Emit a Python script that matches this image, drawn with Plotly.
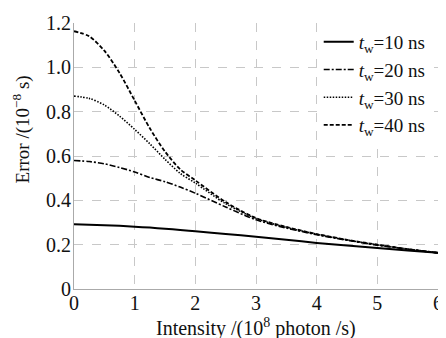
import plotly.graph_objects as go

intensity = [0, 0.25, 0.5, 0.75, 1, 1.25, 1.5, 1.75, 2, 2.5, 3, 3.5, 4, 4.5, 5, 5.5, 6]
err_10ns = [0.292, 0.290, 0.288, 0.285, 0.281, 0.277, 0.272, 0.266, 0.260, 0.248, 0.236, 0.222, 0.208, 0.196, 0.185, 0.174, 0.163]
err_20ns = [0.580, 0.575, 0.565, 0.548, 0.528, 0.503, 0.484, 0.460, 0.432, 0.370, 0.312, 0.275, 0.245, 0.220, 0.198, 0.180, 0.163]
err_30ns = [0.870, 0.860, 0.830, 0.780, 0.720, 0.655, 0.585, 0.522, 0.478, 0.385, 0.318, 0.278, 0.247, 0.221, 0.199, 0.180, 0.163]
err_40ns = [1.163, 1.140, 1.075, 0.975, 0.850, 0.725, 0.620, 0.540, 0.490, 0.392, 0.320, 0.280, 0.248, 0.222, 0.200, 0.180, 0.163]
labels = ["<i>t</i><sub>w</sub>=10 ns", "<i>t</i><sub>w</sub>=20 ns",
          "<i>t</i><sub>w</sub>=30 ns", "<i>t</i><sub>w</sub>=40 ns"]
x_ticks = [0, 1, 2, 3, 4, 5, 6]
y_ticks = [0, 0.2, 0.4, 0.6, 0.8, 1.0, 1.2]
y_tick_text = ["0", "0.2", "0.4", "0.6", "0.8", "1.0", "1.2"]
x_title = "Intensity /(10<sup>8</sup> photon /s)"
y_title = "Error /(10<sup>−8</sup> s)"

series = [err_10ns, err_20ns, err_30ns, err_40ns]
dashes = ["solid", "6px,2px,2px,2px", "1.5px,1.5px", "4px,2px"]
widths = [2, 1.6, 1.6, 1.8]

FONT = "Liberation Serif"
fig = go.Figure()
for ys, name, d, w in zip(series, labels, dashes, widths):
    fig.add_trace(go.Scatter(x=intensity, y=ys, mode="lines", name=name,
                             line=dict(color="black", dash=d, width=w, shape="spline", smoothing=0.8)))

# the page body adds an 8px offset, so the figure is 8px smaller than the window
fig.update_layout(
    width=438, height=330,
    margin=dict(l=66, r=8, t=15, b=49, autoexpand=False),
    paper_bgcolor="white", plot_bgcolor="white",
    font=dict(family=FONT, size=17, color="#111"),
    legend=dict(x=0.98, xanchor="right", y=1.0, yanchor="top", bgcolor="white",
                font=dict(family=FONT, size=19, color="#111"),
                itemwidth=30, tracegroupgap=0, borderwidth=0),
    showlegend=True,
    annotations=[
        dict(text=x_title, xref="paper", yref="paper", x=0.5, y=0, xanchor="center",
             yanchor="middle", yshift=-38, showarrow=False, font=dict(size=20)),
        dict(text=y_title, xref="paper", yref="paper", x=0, y=0.6, xanchor="center",
             yanchor="middle", xshift=-53, textangle=-90, showarrow=False, font=dict(size=19)),
    ],
)
fig.update_xaxes(range=[0, 6], tickvals=x_ticks, showgrid=True, gridcolor="#c8c8c8",
                 griddash="dash", gridwidth=1, showline=True, linecolor="#aaaaaa",
                 linewidth=1, zeroline=False, ticks="", tickfont=dict(size=20),
                 automargin=False, ticklabeloverflow="allow", ticklabelstandoff=-4)
fig.update_yaxes(range=[0, 1.2], tickvals=y_ticks, ticktext=y_tick_text, showgrid=True,
                 gridcolor="#c8c8c8", griddash="dash", gridwidth=1, showline=True,
                 linecolor="#aaaaaa", linewidth=1, zeroline=False, ticks="",
                 tickfont=dict(size=20), automargin=False, ticklabelstandoff=-2)
fig.write_html("out.html")
